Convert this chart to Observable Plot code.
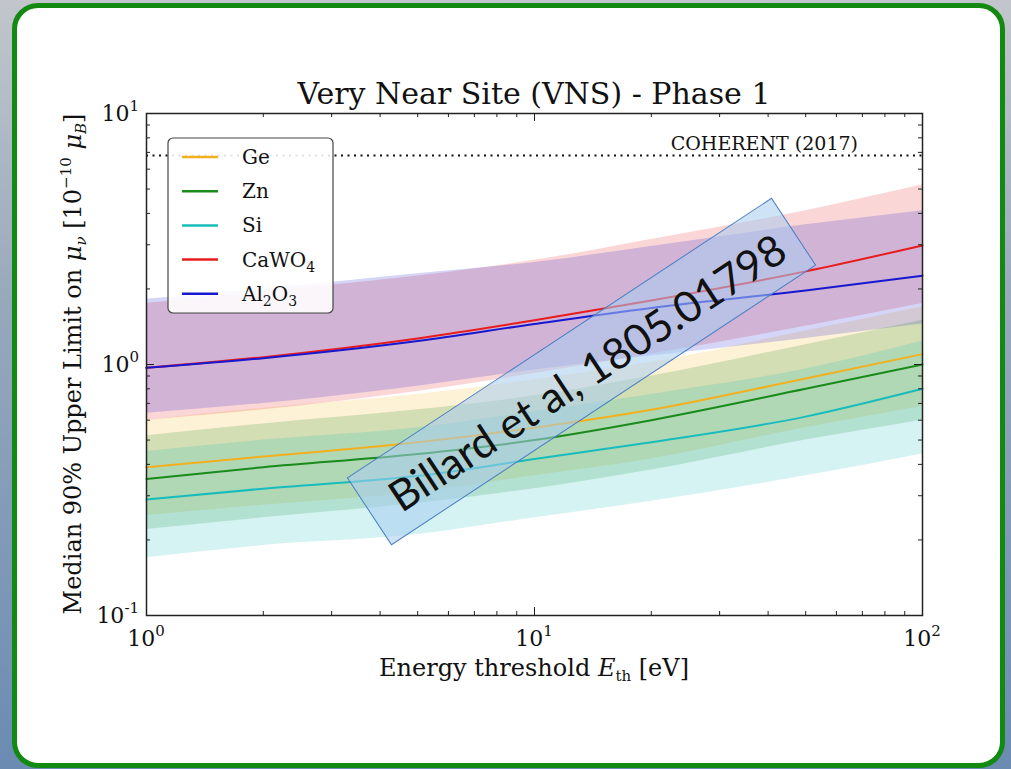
<!DOCTYPE html>
<html><head><meta charset="utf-8">
<script src="https://cdn.jsdelivr.net/npm/d3@7"></script>
<script src="https://cdn.jsdelivr.net/npm/@observablehq/plot@0.6"></script>
<style>
html,body{margin:0;padding:0;width:1011px;height:769px;overflow:hidden}
body{background:linear-gradient(to bottom,#c2c6cc 0%,#97a8bc 40%,#6b8bb3 100%);position:relative}
#card{position:absolute;left:12px;top:3px;width:983px;height:755px;border:5px solid #128a12;border-radius:26px;background:#fff}
#chart{position:absolute;left:0;top:0}
</style></head><body><div id="card"></div><div id="chart"></div>
<script>
// ---- data ----
const energy = [1, 2, 5, 10, 20, 50, 100];
const names = ["Ge", "Zn", "Si", "CaWO4", "Al2O3"];
const colors = ["#f2b01e", "#1a8a1a", "#18bcbc", "#e81c1c", "#1818d0"];
const geMed = [0.39, 0.43, 0.49, 0.56, 0.66, 0.88, 1.10];
const geLo  = [0.25, 0.275, 0.31, 0.36, 0.42, 0.56, 0.68];
const geHi  = [0.60, 0.67, 0.76, 0.87, 1.02, 1.36, 1.70];
const znMed = [0.35, 0.39, 0.44, 0.50, 0.60, 0.80, 1.00];
const znLo  = [0.22, 0.245, 0.28, 0.32, 0.38, 0.50, 0.60];
const znHi  = [0.52, 0.58, 0.66, 0.75, 0.90, 1.20, 1.50];
const siMed = [0.29, 0.32, 0.36, 0.42, 0.49, 0.62, 0.80];
const siLo  = [0.17, 0.19, 0.21, 0.245, 0.285, 0.36, 0.44];
const siHi  = [0.45, 0.50, 0.56, 0.65, 0.76, 0.96, 1.24];
const cawMed = [0.97, 1.07, 1.27, 1.50, 1.80, 2.35, 2.98];
const cawLo  = [0.60, 0.66, 0.78, 0.92, 1.10, 1.42, 1.75];
const cawHi  = [1.75, 1.95, 2.25, 2.60, 3.15, 4.10, 5.20];
const alMed = [0.97, 1.06, 1.24, 1.45, 1.68, 1.97, 2.26];
const alLo  = [0.64, 0.70, 0.82, 0.95, 1.08, 1.27, 1.45];
const alHi  = [1.82, 2.00, 2.30, 2.55, 2.95, 3.60, 4.10];
const coherentLimit = 6.8;
const xMajor = [1, 10, 100];
const xMinor = [2,3,4,5,6,7,8,9,20,30,40,50,60,70,80,90];
const yMajor = [0.1, 1, 10];
const yMinor = [0.2,0.3,0.4,0.5,0.6,0.7,0.8,0.9,2,3,4,5,6,7,8,9];

const meds = [geMed, znMed, siMed, cawMed, alMed];
const los = [geLo, znLo, siLo, cawLo, alLo];
const his = [geHi, znHi, siHi, cawHi, alHi];
const rows = names.flatMap((n, k) => energy.map((e, i) => ({name: n, E: e, m: meds[k][i], lo: los[k][i], hi: his[k][i]})));

const W = 1011, H = 769, mL = 146, mR = 89, mT = 113, mB = 154;
const fh = H - mT - mB, fw = W - mL - mR;
const serif = "'DejaVu Serif', 'Liberation Serif', serif";

const chart = Plot.plot({
  width: W, height: H,
  marginLeft: mL, marginRight: mR, marginTop: mT, marginBottom: mB,
  style: {background: "transparent", fontFamily: serif, overflow: "visible"},
  x: {type: "log", domain: [1, 100], axis: null},
  y: {type: "log", domain: [0.1, 10], axis: null},
  color: {domain: names, range: colors},
  marks: [
    Plot.areaY(rows, {x: "E", y1: "lo", y2: "hi", fill: "name", fillOpacity: 0.18, curve: "monotone-x"}),
    Plot.ruleY([coherentLimit], {stroke: "#111", strokeWidth: 2, strokeDasharray: "2,4.5"}),
    Plot.line(rows, {x: "E", y: "m", stroke: "name", strokeWidth: 2, curve: "monotone-x"}),
    Plot.frame({stroke: "#222", strokeWidth: 1.5}),
    Plot.tickX(xMajor, {x: d => d, insetTop: fh - 8, stroke: "#222"}),
    Plot.tickX(xMajor, {x: d => d, insetBottom: fh - 8, stroke: "#222"}),
    Plot.tickX(xMinor, {x: d => d, insetTop: fh - 4, stroke: "#222"}),
    Plot.tickX(xMinor, {x: d => d, insetBottom: fh - 4, stroke: "#222"}),
    Plot.tickY(yMajor, {y: d => d, insetRight: fw - 8, stroke: "#222"}),
    Plot.tickY(yMajor, {y: d => d, insetLeft: fw - 8, stroke: "#222"}),
    Plot.tickY(yMinor, {y: d => d, insetRight: fw - 4, stroke: "#222"}),
    Plot.tickY(yMinor, {y: d => d, insetLeft: fw - 4, stroke: "#222"})
  ]
});
document.getElementById("chart").appendChild(chart);

const sx = chart.scale("x"), sy = chart.scale("y");
const svg = d3.select(chart);
const g = svg.append("g").attr("font-family", serif).attr("fill", "#111").attr("text-anchor", "start");

// tick labels
xMajor.forEach(v => {
  const t = g.append("text").attr("x", sx.apply(v)).attr("y", H - mB + 31).attr("text-anchor", "middle").attr("font-size", 22);
  t.append("tspan").text("10");
  t.append("tspan").attr("font-size", 15).attr("dy", -10).text(String(Math.round(Math.log10(v))));
});
yMajor.forEach(v => {
  const t = g.append("text").attr("x", mL - 7).attr("y", sy.apply(v) + 8).attr("text-anchor", "end").attr("font-size", 22);
  t.append("tspan").text("10");
  t.append("tspan").attr("font-size", 15).attr("dy", -10).text(String(Math.round(Math.log10(v))));
});

// title
g.append("text").attr("x", mL + fw / 2).attr("y", 104).attr("text-anchor", "middle").attr("font-size", 30).text("Very Near Site (VNS) - Phase 1");

// x label
{
  const t = g.append("text").attr("x", mL + fw / 2).attr("y", 676).attr("text-anchor", "middle").attr("font-size", 24);
  t.append("tspan").text("Energy threshold ");
  t.append("tspan").attr("font-style", "italic").text("E");
  t.append("tspan").attr("font-size", 15).attr("dy", 5).text("th");
  t.append("tspan").attr("dy", -5).text(" [eV]");
}
// y label
{
  const t = g.append("text").attr("transform", `translate(81,${mT + fh / 2}) rotate(-90)`).attr("text-anchor", "middle").attr("font-size", 24);
  t.append("tspan").text("Median 90% Upper Limit on ");
  t.append("tspan").attr("font-style", "italic").text("μ");
  t.append("tspan").attr("font-size", 15).attr("font-style", "italic").attr("dy", 5).text("ν");
  t.append("tspan").attr("dy", -5).text(" [10");
  t.append("tspan").attr("font-size", 15).attr("dy", -10).text("−10");
  t.append("tspan").attr("dy", 10).text(" ");
  t.append("tspan").attr("font-style", "italic").text("μ");
  t.append("tspan").attr("font-size", 15).attr("font-style", "italic").attr("dy", 5).text("B");
  t.append("tspan").attr("dy", -5).text("]");
}
// COHERENT label
g.append("text").attr("x", 858).attr("y", sy.apply(coherentLimit) - 5).attr("text-anchor", "end").attr("font-size", 19).text("COHERENT (2017)");

// legend
{
  const lg = svg.append("g").attr("font-family", serif).attr("text-anchor", "start");
  lg.append("rect").attr("x", 168).attr("y", 138).attr("width", 165).attr("height", 175).attr("rx", 5)
    .attr("fill", "rgba(255,255,255,0.88)").attr("stroke", "#444").attr("stroke-width", 1.2);
  const labelParts = {
    "Ge": [["Ge", 0]], "Zn": [["Zn", 0]], "Si": [["Si", 0]],
    "CaWO4": [["CaWO", 0], ["4", 1]], "Al2O3": [["Al", 0], ["2", 1], ["O", 0], ["3", 1]]
  };
  names.forEach((n, i) => {
    const y = 157 + i * 34.2;
    lg.append("line").attr("x1", 182).attr("x2", 218).attr("y1", y).attr("y2", y).attr("stroke", colors[i]).attr("stroke-width", 2.5);
    const t = lg.append("text").attr("x", 242).attr("y", y + 7).attr("font-size", 20).attr("fill", "#111");
    let sub = 0;
    labelParts[n].forEach(([s, isSub]) => {
      const dy = isSub && !sub ? 5 : (!isSub && sub ? -5 : 0);
      t.append("tspan").attr("dy", dy).attr("font-size", isSub ? 14 : 20).text(s);
      sub = isSub;
    });
  });
}

// annotation overlay
{
  const a = svg.append("g").attr("transform", "translate(581.5,371.5) rotate(-33.4)");
  a.append("rect").attr("x", -254).attr("y", -40).attr("width", 508).attr("height", 80)
    .attr("fill", "rgba(168,204,240,0.55)").attr("stroke", "#4a7fc0").attr("stroke-width", 1);
  a.append("text").attr("x", 4).attr("y", 3).attr("text-anchor", "middle").attr("dominant-baseline", "central")
    .attr("font-family", "Lato, 'Open Sans', sans-serif").attr("font-size", 43).attr("fill", "#111")
    .text("Billard et al, 1805.01798");
}
</script></body></html>
